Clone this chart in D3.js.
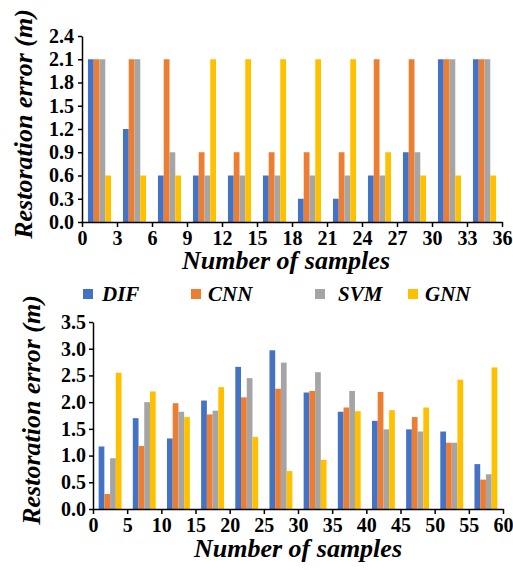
<!DOCTYPE html>
<html>
<head>
<meta charset="utf-8">
<script src="https://cdn.jsdelivr.net/npm/d3@7"></script>
<style>
  body { margin: 0; background: #fff; }
  svg text { font-family: "Liberation Serif", "Times New Roman", serif; font-weight: bold; }
  .axis path, .axis line { stroke: #000; stroke-width: 1.5; }
  .axis text { font-size: 20px; fill: #000; font-family: "Liberation Serif", serif; }
  .title { font-size: 26px; font-style: italic; }
  .legend text { font-size: 21px; font-style: italic; }
</style>
</head>
<body>
<div id="chart"></div>
<script>
// series
const methods = ["DIF", "CNN", "SVM", "GNN"];
const methodColors = ["#4472C4", "#ED7D31", "#A5A5A5", "#FFC000"];

// top panel (12 groups over 0..36)
const topDIF = [2.1, 1.2, 0.6, 0.6, 0.6, 0.6, 0.3, 0.3, 0.6, 0.9, 2.1, 2.1];
const topCNN = [2.1, 2.1, 2.1, 0.9, 0.9, 0.9, 0.9, 0.9, 2.1, 2.1, 2.1, 2.1];
const topSVM = [2.1, 2.1, 0.9, 0.6, 0.6, 0.6, 0.6, 0.6, 0.6, 0.9, 2.1, 2.1];
const topGNN = [0.6, 0.6, 0.6, 2.1, 2.1, 2.1, 2.1, 2.1, 0.9, 0.6, 0.6, 0.6];
const topYTicks = [0, 0.3, 0.6, 0.9, 1.2, 1.5, 1.8, 2.1, 2.4];
const topXTicks = [0, 3, 6, 9, 12, 15, 18, 21, 24, 27, 30, 33, 36];

// bottom panel (12 groups over 0..60)
const botDIF = [1.17, 1.70, 1.32, 2.03, 2.66, 2.97, 2.18, 1.82, 1.65, 1.49, 1.45, 0.84];
const botCNN = [0.28, 1.18, 1.98, 1.77, 2.09, 2.25, 2.21, 1.90, 2.19, 1.72, 1.24, 0.55];
const botSVM = [0.95, 2.00, 1.82, 1.84, 2.45, 2.74, 2.56, 2.21, 1.49, 1.45, 1.24, 0.65];
const botGNN = [2.55, 2.20, 1.72, 2.28, 1.35, 0.71, 0.92, 1.83, 1.85, 1.90, 2.42, 2.65];
const botYTicks = [0, 0.5, 1.0, 1.5, 2.0, 2.5, 3.0, 3.5];
const botXTicks = [0, 5, 10, 15, 20, 25, 30, 35, 40, 45, 50, 55, 60];

const width = 513, height = 570;

const svg = d3.select("#chart")
  .append("svg")
  .attr("width", width)
  .attr("height", height);

function panel(opt) {
  const xLin = d3.scaleLinear()
    .domain([0, opt.xMax])
    .range([opt.left, opt.right]);

  const y = d3.scaleLinear()
    .domain([0, opt.yMax])
    .range([opt.bottom, opt.top]);

  const groups = d3.range(opt.series[0].length);

  const x0 = d3.scaleBand()
    .domain(groups)
    .range([xLin(0), xLin(opt.xMax)])
    .paddingInner(opt.pad)
    .paddingOuter(opt.pad / 2);

  const x1 = d3.scaleBand()
    .domain(methods)
    .range([0, x0.bandwidth()]);

  const g = svg.append("g");

  methods.forEach((m, i) => {
    g.append("g")
      .attr("fill", methodColors[i])
      .selectAll("rect")
      .data(opt.series[i])
      .join("rect")
      .attr("x", (d, j) => x0(j) + x1(m))
      .attr("y", d => y(d))
      .attr("width", x1.bandwidth())
      .attr("height", d => y(0) - y(d));
  });

  g.append("g")
    .attr("class", "axis")
    .attr("transform", `translate(0,${opt.bottom})`)
    .call(d3.axisBottom(xLin).tickValues(opt.xTicks).tickFormat(d3.format("d"))
      .tickSize(5).tickSizeOuter(0).tickPadding(4));

  g.append("g")
    .attr("class", "axis")
    .attr("transform", `translate(${opt.left},0)`)
    .call(d3.axisLeft(y).tickValues(opt.yTicks).tickFormat(d3.format(".1f"))
      .tickSize(4).tickSizeOuter(0).tickPadding(opt.yPad));

  g.append("text")
    .attr("class", "title")
    .attr("text-anchor", "middle")
    .attr("transform", `translate(${opt.yTitleX},${opt.yTitleY}) rotate(-90)`)
    .text("Restoration error (m)");

  g.append("text")
    .attr("class", "title")
    .attr("text-anchor", "middle")
    .attr("x", opt.xTitleX)
    .attr("y", opt.xTitleY)
    .text("Number of samples");
}

panel({
  series: [topDIF, topCNN, topSVM, topGNN],
  xMax: 36, yMax: 2.4,
  left: 82, right: 502, top: 36, bottom: 222,
  pad: 0.34, yPad: 4,
  xTicks: topXTicks, yTicks: topYTicks,
  yTitleX: 32, yTitleY: 124,
  xTitleX: 286, xTitleY: 269
});

panel({
  series: [botDIF, botCNN, botSVM, botGNN],
  xMax: 60, yMax: 3.5,
  left: 93, right: 503, top: 322, bottom: 509,
  pad: 0.33, yPad: 3,
  xTicks: botXTicks, yTicks: botYTicks,
  yTitleX: 40, yTitleY: 410,
  xTitleX: 298, xTitleY: 557
});

// legend
const legendX = [83, 191, 315, 408];
const legend = svg.append("g").attr("class", "legend");
methods.forEach((m, i) => {
  const item = legend.append("g").attr("transform", `translate(${legendX[i]},294)`);
  item.append("rect")
    .attr("x", 0).attr("y", -5)
    .attr("width", 10).attr("height", 10)
    .attr("fill", methodColors[i]);
  item.append("text")
    .attr("x", [19, 17, 23, 17][i])
    .attr("y", 7)
    .text(m);
});
</script>
</body>
</html>
